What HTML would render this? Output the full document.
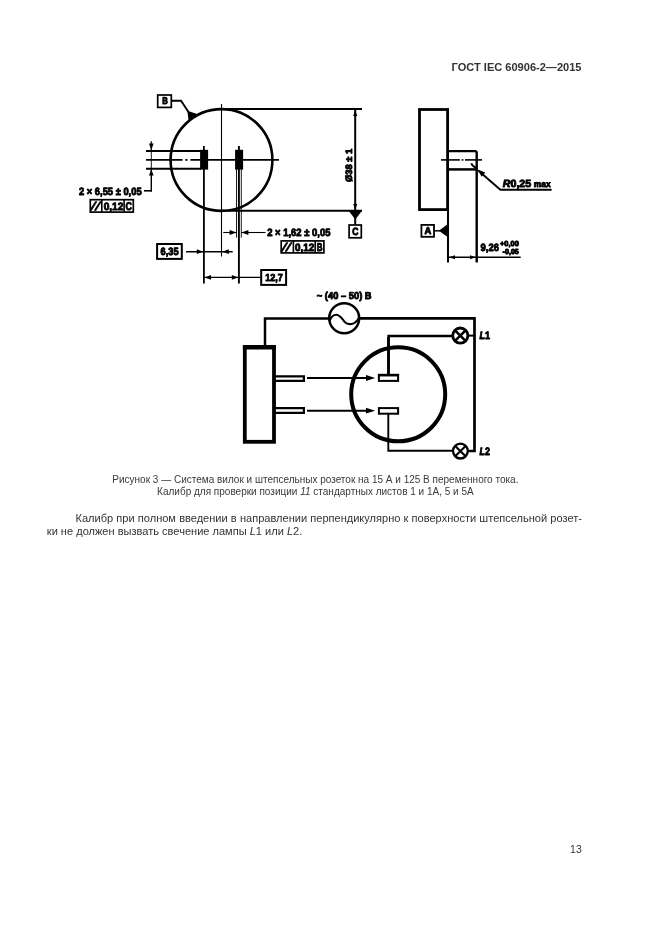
<!DOCTYPE html>
<html lang="ru">
<head>
<meta charset="utf-8">
<title>ГОСТ IEC 60906-2—2015</title>
<style>
html,body{margin:0;padding:0;background:#fff;}
body{width:661px;height:935px;position:relative;overflow:hidden;filter:grayscale(1);font-family:"Liberation Sans",sans-serif;color:#222;}
#hdr{position:absolute;left:451.6px;top:60.4px;width:131px;font-size:11.05px;font-weight:bold;line-height:14px;white-space:nowrap;color:#333;}
#cap{position:absolute;left:65.4px;top:474.1px;width:500px;text-align:center;font-size:10px;line-height:12px;color:#3a3a3a;white-space:nowrap;}
#body{position:absolute;left:46.8px;top:512.1px;width:535.2px;font-size:11.05px;line-height:13.3px;color:#333;}
#body .j{text-indent:28.7px;text-align:justify;text-align-last:justify;white-space:nowrap;}
#body .l{text-indent:0;white-space:nowrap;}
#pn{position:absolute;left:560px;top:842.4px;width:21.8px;text-align:right;font-size:10.5px;line-height:14px;color:#333;}
svg{position:absolute;left:0;top:0;}
svg text{font-family:"Liberation Sans",sans-serif;font-weight:bold;fill:#000;text-rendering:geometricPrecision;stroke:#000;stroke-width:0.9px;stroke-linejoin:round;}
</style>
</head>
<body>
<div id="hdr">ГОСТ IEC 60906-2—2015</div>

<svg width="661" height="935" viewBox="0 0 661 935">
<g fill="none" stroke="#000" stroke-width="2">
<!-- ===== left view ===== -->
<circle cx="221.5" cy="160" r="50.9" stroke-width="2.6"/>
<!-- center lines -->
<line x1="221.5" y1="104" x2="221.5" y2="256.5" stroke-width="1.1"/>
<line x1="146" y1="159.9" x2="182.5" y2="159.9" stroke-width="1.9"/>
<line x1="185.4" y1="159.9" x2="187.4" y2="159.9" stroke-width="1.9"/>
<line x1="190.4" y1="159.9" x2="279" y2="159.9" stroke-width="1.9"/>
<!-- pin lines -->
<line x1="146" y1="150.9" x2="201" y2="150.9" stroke-width="2"/>
<line x1="146" y1="168.8" x2="201" y2="168.8" stroke-width="2"/>
<!-- black rects -->
<rect x="200.1" y="149.8" width="8" height="19.8" fill="#000" stroke="none"/>
<rect x="235.1" y="149.8" width="8" height="19.8" fill="#000" stroke="none"/>
<line x1="203.9" y1="146" x2="203.9" y2="283.5" stroke-width="1.8"/>
<line x1="238.9" y1="146" x2="238.9" y2="283.5" stroke-width="1.9"/>
<line x1="236.5" y1="169" x2="236.5" y2="237.6" stroke-width="0.9"/>
<line x1="241.3" y1="169" x2="241.3" y2="237.6" stroke-width="0.9"/>
<!-- extension lines -->
<line x1="221.5" y1="109" x2="362" y2="109" stroke-width="2"/>
<line x1="221.5" y1="210.8" x2="362" y2="210.8" stroke-width="2"/>
<line x1="355.2" y1="109" x2="355.2" y2="224.5" stroke-width="2"/>
<!-- dim 6,55 -->
<line x1="151.3" y1="141.2" x2="151.3" y2="151" stroke-width="1.2"/>
<line x1="151.3" y1="151" x2="151.3" y2="169" stroke-width="0.9"/>
<line x1="151.3" y1="169" x2="151.3" y2="191.4" stroke-width="1.4"/>
<line x1="144" y1="190.8" x2="152" y2="190.8" stroke-width="1.6"/>
<!-- dim 1,62 -->
<line x1="223.3" y1="232.5" x2="236.5" y2="232.5" stroke-width="1.1"/>
<line x1="241.3" y1="232.5" x2="265.5" y2="232.5" stroke-width="1.1"/>
<!-- dim 6,35 -->
<line x1="186.1" y1="251.7" x2="232.7" y2="251.7" stroke-width="1.5"/>
<!-- dim 12,7 -->
<line x1="204" y1="277.4" x2="260.5" y2="277.4" stroke-width="1.3"/>
<!-- B leader -->
<polyline points="172,100.8 181,100.8 188.5,112" stroke-width="1.9"/>
<!-- boxes -->
<rect x="157.7" y="95" width="13.6" height="12.4" stroke-width="1.7"/>
<rect x="349.1" y="225" width="12.2" height="12.8" stroke-width="1.7"/>
<rect x="157.1" y="244" width="24.7" height="14.9" stroke-width="2"/>
<rect x="261.2" y="270" width="24.9" height="14.9" stroke-width="2"/>
<!-- tolerance frame 1 -->
<rect x="90.3" y="199.7" width="43" height="12.4" stroke-width="1.7"/>
<line x1="101.8" y1="199.7" x2="101.8" y2="212.1" stroke-width="1.6"/>
<line x1="124.1" y1="199.7" x2="124.1" y2="212.1" stroke-width="1.6"/>
<!-- tolerance frame 2 -->
<rect x="281.2" y="240.9" width="42.7" height="12" stroke-width="1.7"/>
<line x1="293.4" y1="240.9" x2="293.4" y2="252.9" stroke-width="1.6"/>
<line x1="315.2" y1="240.9" x2="315.2" y2="252.9" stroke-width="1.6"/>

<!-- ===== right view ===== -->
<rect x="419.5" y="109.5" width="28.1" height="100.1" stroke-width="2.8"/>
<line x1="448" y1="210" x2="448" y2="262.5" stroke-width="2"/>
<path d="M448,151.1 H475 Q476.7,151.1 476.7,152.8 V262.5" stroke-width="2.4"/>
<line x1="448" y1="169.4" x2="477.6" y2="169.4" stroke-width="2.5"/>
<line x1="441" y1="159.9" x2="459.9" y2="159.9" stroke-width="1.6"/>
<line x1="461.6" y1="159.9" x2="463.4" y2="159.9" stroke-width="1.6"/>
<line x1="465" y1="159.9" x2="482" y2="159.9" stroke-width="1.6"/>
<polyline points="478.5,170.8 500.4,189.8 551.6,189.8" stroke-width="1.9"/>
<path d="M471.3,163.2 Q472.2,166.4 476,167.6" stroke-width="1.8"/>
<rect x="421.4" y="224.9" width="12.6" height="11.9" stroke-width="1.8"/>
<line x1="434" y1="230.8" x2="440" y2="230.8" stroke-width="1.5"/>
<line x1="448" y1="257.2" x2="520.7" y2="257.2" stroke-width="1.5"/>

<!-- ===== schematic ===== -->
<polyline points="265,346 265,318.4 328.6,318.4" stroke-width="2.5"/>
<polyline points="359.8,318.4 474.5,318.4 474.5,451 468,451" stroke-width="2.7"/>
<circle cx="344.2" cy="318.3" r="15" stroke-width="2.5"/>
<path d="M329.6,320.6 C331.4,316.4 333.8,314.6 336.4,314.7 C340.2,314.9 342.2,319.2 344.6,321.9 C346.6,324 349,324.4 351.6,324 C355,323.5 357.2,321 358.8,318" stroke-width="2.1"/>
<rect x="244.8" y="346.9" width="29.2" height="94.9" stroke-width="3.8"/>
<line x1="242.9" y1="347.2" x2="275.9" y2="347.2" stroke-width="4.6"/>
<path d="M275,376.3 H303.9 V380.8 H275" stroke-width="2.2"/>
<path d="M275,408.2 H303.9 V412.9 H275" stroke-width="2.2"/>
<line x1="307" y1="378" x2="368" y2="378" stroke-width="1.9"/>
<line x1="307" y1="410.7" x2="368" y2="410.7" stroke-width="1.9"/>
<circle cx="398.2" cy="394.3" r="47" stroke-width="4"/>
<rect x="378.9" y="375.3" width="19.2" height="5.6" stroke-width="2"/>
<line x1="377.9" y1="375" x2="399.1" y2="375" stroke-width="2.4"/>
<rect x="378.9" y="408.1" width="19.2" height="5.6" stroke-width="2"/>
<polyline points="388.5,375 388.5,336 452.5,336" stroke-width="2.3"/>
<line x1="388.5" y1="337" x2="388.5" y2="375" stroke-width="2.7"/>
<polyline points="388.3,413.7 388.3,450.7 452.5,450.7" stroke-width="1.9"/>
<line x1="468" y1="335.6" x2="475.1" y2="335.6" stroke-width="2"/>
<circle cx="460.3" cy="335.6" r="7.6" stroke-width="2.8"/>
<circle cx="460.4" cy="451.1" r="7.4" stroke-width="2.3"/>
<path d="M455,330.3 L465.6,340.9 M465.6,330.3 L455,340.9" stroke-width="2.6"/>
<path d="M455.2,445.9 L465.6,456.3 M465.6,445.9 L455.2,456.3" stroke-width="2.1"/>
</g>

<!-- arrowheads & filled triangles -->
<g fill="#000" stroke="none">
<!-- datum triangles -->
<polygon points="187.3,110.8 198.6,114.4 188.6,120.4"/>
<polygon points="348.6,210.8 362,210.8 355.3,219.6"/>
<polygon points="448,224 448,237.2 438.8,230.8"/>
<!-- 38 dim arrows -->
<polygon points="355.2,110.4 353.1,116 357.3,116"/>
<polygon points="355.2,209.6 353.1,204 357.3,204"/>
<!-- 6,55 arrows -->
<polygon points="151.3,150.2 149,143.6 153.6,143.6"/>
<polygon points="151.3,169.6 148.9,175.6 153.7,175.6"/>
<!-- 1,62 arrows -->
<polygon points="236.4,232.5 229.6,230.1 229.6,234.9"/>
<polygon points="241.4,232.5 248.4,230.1 248.4,234.9"/>
<!-- 6,35 arrows -->
<polygon points="203.2,251.7 196.8,249.3 196.8,254.1"/>
<polygon points="222.2,251.7 228.8,249.3 228.8,254.1"/>
<!-- 12,7 arrows -->
<polygon points="204.6,277.4 211,275.1 211,279.7"/>
<polygon points="238.2,277.4 231.8,275.1 231.8,279.7"/>
<!-- R arrow -->
<polygon points="477.6,169.6 485.3,172.6 481.7,176.8"/>

<!-- 9,26 arrows -->
<polygon points="448.8,257.2 455,255.2 455,259.2"/>
<polygon points="476,257.2 470,255.2 470,259.2"/>
<!-- schematic arrows -->
<polygon points="375.2,378 366,375.1 366,380.9"/>
<polygon points="375.2,410.7 366,407.8 366,413.6"/>
</g>

<!-- drawing text -->
<g font-size="10.6">
<text x="162.2" y="104.2" font-size="9.8" textLength="5.6" lengthAdjust="spacingAndGlyphs" stroke-width="0.5">B</text>
<text x="352.3" y="234.7" font-size="10.4" textLength="6.2" lengthAdjust="spacingAndGlyphs" stroke-width="0.5">C</text>
<text x="424.4" y="234.2" font-size="10" textLength="6.8" lengthAdjust="spacingAndGlyphs" stroke-width="0.5">A</text>
<text x="79" y="194.6" textLength="62.6" lengthAdjust="spacingAndGlyphs">2 × 6,55 ± 0,05</text>
<text transform="translate(90.6,210) skewX(-14)" font-style="italic" font-size="11.5" stroke-width="1.2" textLength="7.6" lengthAdjust="spacing">//</text>
<text x="103.7" y="209.7" textLength="19.6" lengthAdjust="spacingAndGlyphs">0,12</text>
<text x="125.4" y="209.7" font-size="11.2" textLength="6.4" lengthAdjust="spacingAndGlyphs" stroke-width="0.6">C</text>
<text x="267.2" y="235.8" textLength="63.2" lengthAdjust="spacingAndGlyphs">2 × 1,62 ± 0,05</text>
<text transform="translate(281.4,251) skewX(-14)" font-style="italic" font-size="11.5" stroke-width="1.2" textLength="7.6" lengthAdjust="spacing">//</text>
<text x="295" y="250.7" textLength="19.2" lengthAdjust="spacingAndGlyphs">0,12</text>
<text x="316.7" y="250.7" font-size="11.2" textLength="5.8" lengthAdjust="spacingAndGlyphs" stroke-width="0.6">B</text>
<text x="160.6" y="254.5" textLength="18" lengthAdjust="spacingAndGlyphs">6,35</text>
<text x="265.2" y="280.5" textLength="17.6" lengthAdjust="spacingAndGlyphs" font-size="10.2">12,7</text>
<text transform="translate(352.3,182) rotate(-90)" textLength="33.2" lengthAdjust="spacingAndGlyphs" font-size="9.2">Ø38 ± 1</text>
<text x="502.8" y="186.6" textLength="28.4" lengthAdjust="spacingAndGlyphs" font-size="10.4"><tspan font-style="italic">R</tspan>0,25</text>
<text x="533.8" y="186.5" textLength="16.8" lengthAdjust="spacingAndGlyphs" font-size="8.8" stroke-width="0.8">max</text>
<text x="480.6" y="250.6" textLength="18.4" lengthAdjust="spacingAndGlyphs" font-size="10.6">9,26</text>
<text x="500" y="246.4" textLength="18.8" lengthAdjust="spacingAndGlyphs" font-size="7.4" stroke-width="0.7">+0,00</text>
<text x="502.6" y="253.9" textLength="16.2" lengthAdjust="spacingAndGlyphs" font-size="7.4" stroke-width="0.7">-0,05</text>
<text x="316.8" y="298.8" textLength="54.8" lengthAdjust="spacingAndGlyphs" font-size="10">~ (40 – 50) В</text>
<text x="479.4" y="339.4" font-size="10.8" textLength="10.6" lengthAdjust="spacingAndGlyphs"><tspan font-style="italic">L</tspan>1</text>
<text x="479.6" y="455.2" font-size="10.8" textLength="10.4" lengthAdjust="spacingAndGlyphs"><tspan font-style="italic">L</tspan>2</text>
</g>
</svg>

<div id="cap">Рисунок 3 — Система вилок и штепсельных розеток на 15 А и 125 В переменного тока.<br>Калибр для проверки позиции <i>11</i> стандартных листов 1 и 1А, 5 и 5А</div>

<div id="body"><div class="j">Калибр при полном введении в направлении перпендикулярно к поверхности штепсельной розет-</div><div class="l">ки не должен вызвать свечение лампы <i>L</i>1 или <i>L</i>2.</div></div>

<div id="pn">13</div>
</body>
</html>
